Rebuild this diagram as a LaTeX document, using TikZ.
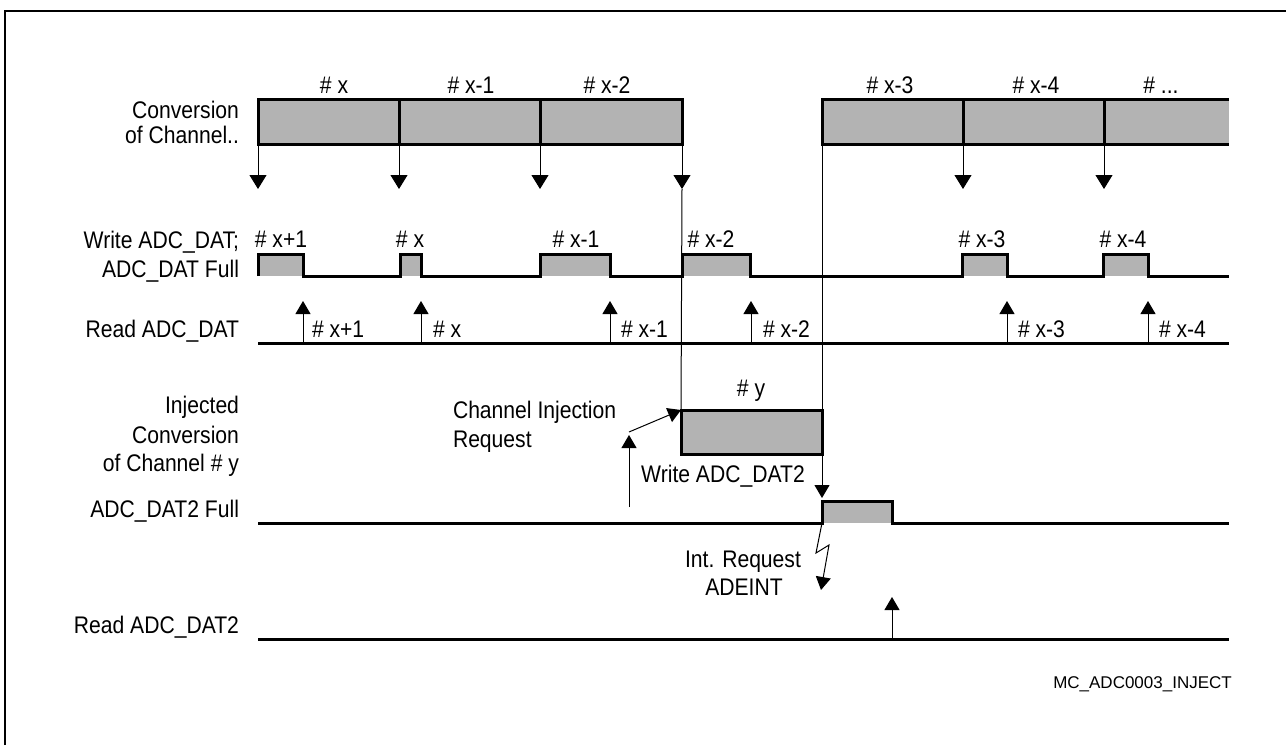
\documentclass[tikz,border=0pt]{standalone}
\usepackage{fontspec}
\setmainfont[FakeStretch=0.88]{Liberation Sans}
\newfontfamily\mcfont{Liberation Sans}
\usetikzlibrary{arrows.meta}
\definecolor{barfill}{RGB}{179,179,179}
\begin{document}
\begin{tikzpicture}[x=1pt,y=-1pt,
  lbl/.style={inner sep=0pt, outer sep=0pt, font=\fontsize{24}{29}\selectfont},
  sig/.style={line width=3pt},
  guide/.style={line width=1pt},
  arr/.style={line width=1pt,-{Triangle[length=13pt,width=15pt]}},
  arrbig/.style={line width=1pt,-{Triangle[length=14pt,width=17pt]}},
  seg/.style={draw, line width=3pt, fill=barfill, inner sep=0pt, outer sep=0pt,
              anchor=north west, minimum height=45pt},
]
\useasboundingbox (0,0) rectangle (1286,745);
% frame (top and left edges visible)
\draw[line width=2pt] (5,745) -- (5,11) -- (1286,11);

% ---------- left labels ----------
\node[lbl, anchor=base east] (l1a) at (239,118) {Conversion};
\node[lbl, anchor=base east] (l1b) at (239,143) {of Channel..};
\node[lbl, anchor=base east] (l2a) at (239,248) {Write ADC\_DAT;};
\node[lbl, anchor=base east] (l2b) at (239,277) {ADC\_DAT Full};
\node[lbl, anchor=base east] (l3)  at (239,337) {Read ADC\_DAT};
\node[lbl, anchor=base east] (l4a) at (239,413) {Injected};
\node[lbl, anchor=base east] (l4b) at (239,443) {Conversion};
\node[lbl, anchor=base east] (l4c) at (239,471) {of Channel \# y};
\node[lbl, anchor=base east] (l5)  at (239,517) {ADC\_DAT2 Full};
\node[lbl, anchor=base east] (l6)  at (239,633) {Read ADC\_DAT2};

% ---------- conversion bar ----------
\node[seg, minimum width=141pt] (cx)  at (258,99) {};
\node[seg, minimum width=141pt] (cx1) at (399,99) {};
\node[seg, minimum width=142pt] (cx2) at (540,99) {};
\node[seg, minimum width=141pt] (cx3) at (822,99) {};
\node[seg, minimum width=141pt] (cx4) at (963,99) {};
\fill[barfill] (1104,99) rectangle (1229,144);
\draw[sig] (1229,99) -- (1104,99) -- (1104,144) -- (1229,144);

\node[lbl, anchor=base] (t1) at (334,93)  {\# x};
\node[lbl, anchor=base] (t2) at (471,93)  {\# x-1};
\node[lbl, anchor=base] (t3) at (607,93)  {\# x-2};
\node[lbl, anchor=base] (t4) at (890,93)  {\# x-3};
\node[lbl, anchor=base] (t5) at (1036,93) {\# x-4};
\node[lbl, anchor=base] (t6) at (1161,93) {\# ...};

% injected conversion box
\node[seg, minimum width=141pt, minimum height=44pt] (iy) at (681,410) {};
\node[lbl, anchor=base] (ty) at (751,396) {\# y};

% arrows from conversion bar
\coordinate (a1) at (258,189);
\coordinate (a2) at (399,189);
\coordinate (a3) at (540,189);
\coordinate (a4) at (682,189);
\coordinate (a5) at (963,189);
\coordinate (a6) at (1104,189);
\coordinate (w2) at (822,498);
\draw[arrbig] (cx.south west) -- (a1);
\draw[arrbig] (cx1.south west) -- (a2);
\draw[arrbig] (cx2.south west) -- (a3);
\draw[arrbig] (cx2.south east) -- (a4);
\draw[guide] (a4) -- (iy.north west);
\draw[arr] (cx3.south west) -- (w2);
\draw[arrbig] (cx4.south west) -- (a5);
\draw[arrbig] (cx4.south east) -- (a6);

% ---------- Write ADC_DAT / ADC_DAT Full ----------
\foreach \a/\b in {258/303, 400/421, 540/610, 682/750, 962/1007, 1103/1148}
  \fill[barfill] (\a,254) rectangle (\b,276);
\draw[sig] (258,276) -- (258,254) -- (303,254) -- (303,276)
  -- (400,276) -- (400,254) -- (421,254) -- (421,276)
  -- (540,276) -- (540,254) -- (610,254) -- (610,276)
  -- (682,276) -- (682,254) -- (750,254) -- (750,276)
  -- (962,276) -- (962,254) -- (1007,254) -- (1007,276)
  -- (1103,276) -- (1103,254) -- (1148,254) -- (1148,276) -- (1229,276);
\node[lbl, anchor=base] (p1) at (281,247)  {\# x+1};
\node[lbl, anchor=base] (p2) at (410,247)  {\# x};
\node[lbl, anchor=base] (p3) at (576,247)  {\# x-1};
\node[lbl, anchor=base] (p4) at (711,247)  {\# x-2};
\node[lbl, anchor=base] (p5) at (982,247)  {\# x-3};
\node[lbl, anchor=base] (p6) at (1123,247) {\# x-4};

% ---------- Read ADC_DAT ----------
\draw[sig] (258,343) -- (1229,343);
\foreach \x/\n in {303/1, 421/2, 610/3, 751/4, 1007/5, 1148/6} {
  \coordinate (rb\n) at (\x,343);
  \coordinate (rt\n) at (\x,301);
  \draw[arr] (rb\n) -- (rt\n);
}
\node[lbl, anchor=base west] (r1) at (312,337)  {\# x+1};
\node[lbl, anchor=base west] (r2) at (433,337)  {\# x};
\node[lbl, anchor=base west] (r3) at (621,337)  {\# x-1};
\node[lbl, anchor=base west] (r4) at (763,337)  {\# x-2};
\node[lbl, anchor=base west] (r5) at (1018,337) {\# x-3};
\node[lbl, anchor=base west] (r6) at (1159,337) {\# x-4};

% ---------- channel injection request ----------
\node[lbl, anchor=base west] (ci)  at (453,418) {Channel Injection};
\node[lbl, anchor=base west] (cir) at (453,447) {Request};
\coordinate (ci0) at (629,507);
\coordinate (ci1) at (629,435);
\coordinate (ci2) at (629,432);
\draw[arr] (ci0) -- (ci1);
\draw[arr] (ci2) -- (iy.north west);
\node[lbl, anchor=base] (wd2) at (723,482) {Write ADC\_DAT2};

% ---------- ADC_DAT2 Full ----------
\fill[barfill] (822,501) rectangle (892,523);
\draw[sig] (258,523) -- (822,523) -- (822,501) -- (892,501) -- (892,523) -- (1229,523);

% interrupt request (lightning)
\coordinate (b0) at (822,523);
\coordinate (b1) at (816,553);
\coordinate (b2) at (829,545);
\coordinate (b3) at (821,590);
\draw[arr] (b0) -- (b1) -- (b2) -- (b3);
\node[lbl, anchor=base] (ir1) at (743,567) {Int. Request};
\node[lbl, anchor=base] (ir2) at (744,595) {ADEINT};

% ---------- Read ADC_DAT2 ----------
\draw[sig] (258,639) -- (1229,639);
\coordinate (rr0) at (892,639);
\coordinate (rr1) at (892,597);
\draw[arr] (rr0) -- (rr1);

% figure id
\node[inner sep=0pt, anchor=base east, font=\mcfont\fontsize{17}{20}\selectfont] (mc) at (1232,688) {MC\_ADC0003\_INJECT};
\end{tikzpicture}
\end{document}
